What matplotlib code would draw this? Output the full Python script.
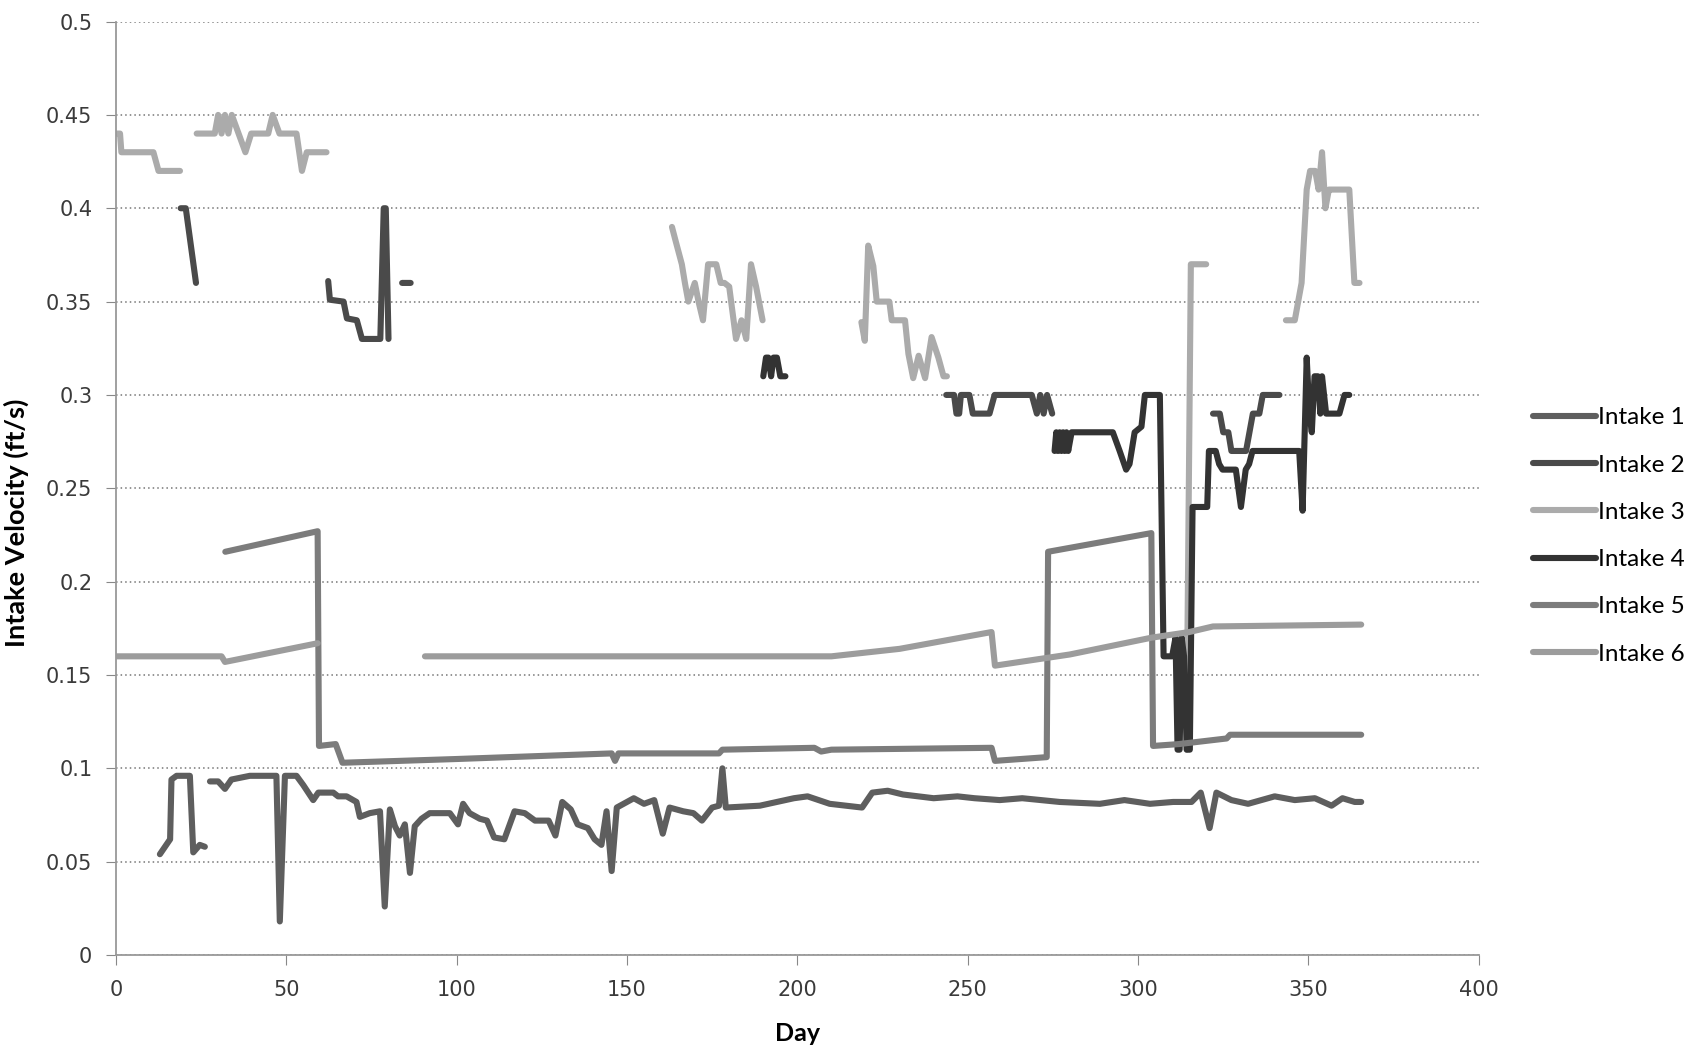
import numpy as np
import matplotlib
matplotlib.use("Agg")
import matplotlib.pyplot as plt

nan = np.nan

# ---- data (day, velocity ft/s); nan = gap ----
days_1 = [12.9, 14.4, 15.9, 16.3, 17.8, 21.7, 22.7, 24.6, 26.1, nan,
          27.6, 30, 32, 33.9, 39.3, 47.1, 48.1, 49.6, 53, 55, 57.9, 59.4, 63.8, 65.2, 67.7,
          70.6, 71.6, 74.5, 77.5, 78.9, 80.4, 81.9, 83.3, 84.8, 86.3, 87.7, 89.7, 92.1, 98,
          100.4, 101.9, 103.8, 106.8, 108.9, 111, 114, 117, 120, 123, 127, 129, 131, 133.5,
          135.5, 138.5, 140.5, 142.5, 144, 145.5, 147, 149, 152, 155, 158, 160.5, 162.5,
          166.5, 169.5, 172, 175, 177, 178, 179, 189, 199, 203, 209.5, 219, 222, 226.5,
          231, 240, 247, 252, 259.4, 266, 277, 288.8, 296, 303.5, 310.3, 315.7, 318.4, 321,
          323, 327.4, 332.3, 340.1, 346, 351.9, 356.8, 360, 363.6, 365.5]
vel_1 = [0.054, 0.058, 0.062, 0.094, 0.096, 0.096, 0.055, 0.059, 0.058, nan,
         0.093, 0.093, 0.089, 0.094, 0.096, 0.096, 0.018, 0.096, 0.096, 0.091, 0.083, 0.087, 0.087, 0.085, 0.085,
         0.082, 0.074, 0.076, 0.077, 0.026, 0.078, 0.069, 0.064, 0.070, 0.044, 0.069, 0.073, 0.076, 0.076,
         0.070, 0.081, 0.076, 0.073, 0.072, 0.063, 0.062, 0.077, 0.076, 0.072, 0.072, 0.064, 0.082, 0.078,
         0.070, 0.068, 0.062, 0.059, 0.077, 0.045, 0.079, 0.081, 0.084, 0.081, 0.083, 0.065, 0.079,
         0.077, 0.076, 0.072, 0.079, 0.080, 0.100, 0.079, 0.080, 0.084, 0.085, 0.081, 0.079, 0.087, 0.088,
         0.086, 0.084, 0.085, 0.084, 0.083, 0.084, 0.082, 0.081, 0.083, 0.081, 0.082, 0.082, 0.087, 0.068,
         0.087, 0.083, 0.081, 0.085, 0.083, 0.084, 0.080, 0.084, 0.082, 0.082]

days_2 = [19, 20.5, 23.5, nan,
          62.3, 62.8, 66.8, 67.8, 70.7, 72.2, 77.6, 78.6, 79.2, 80, nan,
          84, 86.5, nan,
          243.7, 246, 246.7, 247.5, 248, 250.5, 251.5, 256.4, 257.9, 268.8, 270.3, 271.3, 272.3,
          273.3, 274.8, nan,
          322, 324, 325, 326.5, 327.4, 331.7, 332.7, 333.7, 335.6, 336.6, 341.5]
vel_2 = [0.40, 0.40, 0.36, nan,
         0.361, 0.351, 0.35, 0.341, 0.34, 0.33, 0.33, 0.40, 0.40, 0.33, nan,
         0.36, 0.36, nan,
         0.30, 0.30, 0.29, 0.29, 0.30, 0.30, 0.29, 0.29, 0.30, 0.30, 0.29, 0.30, 0.29,
         0.30, 0.29, nan,
         0.29, 0.29, 0.28, 0.28, 0.27, 0.27, 0.28, 0.29, 0.29, 0.30, 0.30]

days_3 = [0, 1.2, 1.6, 11, 12.5, 18.8, nan,
          23.7, 29, 30, 31, 32, 33, 34, 36, 38, 39.7, 44.7, 46, 48, 53, 54.6, 56, 61.8, nan,
          163.2, 164.2, 166.1, 167, 168, 169.9, 171, 172.3, 173.8, 176.2, 177.5, 178.6, 180,
          182, 183.6, 185, 186.4, 187.9, 189.8, nan,
          218.8, 219.8, 220.8, 222.3, 223.3, 227, 227.7, 231.6, 232.6, 234, 235.6, 237.5, 239.4,
          241.4, 242.9, 243.9, nan,
          314.2, 315.5, 320, nan,
          343.4, 346, 348, 349.5, 350.5, 352, 353, 354, 355, 356, 357, 362, 363.5, 365]
vel_3 = [0.44, 0.44, 0.43, 0.43, 0.42, 0.42, nan,
         0.44, 0.44, 0.45, 0.44, 0.45, 0.44, 0.45, 0.44, 0.43, 0.44, 0.44, 0.45, 0.44, 0.44, 0.42, 0.43, 0.43, nan,
         0.39, 0.383, 0.37, 0.36, 0.35, 0.36, 0.35, 0.34, 0.37, 0.37, 0.36, 0.36, 0.358,
         0.33, 0.34, 0.33, 0.37, 0.358, 0.34, nan,
         0.339, 0.329, 0.38, 0.369, 0.35, 0.35, 0.34, 0.34, 0.322, 0.309, 0.321, 0.309, 0.331,
         0.32, 0.31, 0.31, nan,
         0.11, 0.37, 0.37, nan,
         0.34, 0.34, 0.36, 0.41, 0.42, 0.42, 0.41, 0.43, 0.40, 0.41, 0.41, 0.41, 0.36, 0.36]

days_4 = [190, 190.8, 191.5, 192.3, 193, 194, 195, 196.5, nan,
          275.5, 276, 276.5, 277, 277.5, 278, 278.5, 279, 279.5, 280.5, 292.6, 294.6, 296.5,
          297.5, 299, 301, 302, 306.4, 307.5, 310, 311, 311.6, 312.2, 312.8, 313.5, 314.3,
          315.2, 316, 320.3, 320.8, 322.8, 323.8, 324.8, 328.7, 330.2, 331.6, 332.6, 333.6,
          347.3, 348.3, 349.5, 350.3, 351, 351.8, 352.8, 353.5, 354, 355.2, 359.1, 360.6, 362]
vel_4 = [0.31, 0.32, 0.32, 0.31, 0.32, 0.32, 0.31, 0.31, nan,
         0.27, 0.28, 0.27, 0.28, 0.27, 0.28, 0.27, 0.28, 0.27, 0.28, 0.28, 0.27, 0.26,
         0.263, 0.28, 0.283, 0.30, 0.30, 0.16, 0.16, 0.17, 0.11, 0.11, 0.17, 0.16, 0.11,
         0.11, 0.24, 0.24, 0.27, 0.27, 0.263, 0.26, 0.26, 0.24, 0.26, 0.263, 0.27,
         0.27, 0.238, 0.32, 0.29, 0.28, 0.31, 0.31, 0.29, 0.31, 0.29, 0.29, 0.30, 0.30]

days_5 = [32.1, 59.2, 59.6, 64.5, 66.5, 100, 145.5, 146.5, 147.5, 177, 178, 205, 207, 210,
          257, 258, 273.2, 273.6, 303.9, 304.4, 312, 326, 327, 365.5]
vel_5 = [0.216, 0.227, 0.112, 0.113, 0.103, 0.105, 0.108, 0.104, 0.108, 0.108, 0.110, 0.111, 0.109, 0.110,
         0.111, 0.104, 0.106, 0.216, 0.226, 0.112, 0.113, 0.116, 0.118, 0.118]

days_6 = [0, 31, 32, 59.2, nan, 90.7, 150, 210, 230, 257, 258, 280, 304, 315, 322, 365.5]
vel_6 = [0.16, 0.16, 0.157, 0.167, nan, 0.16, 0.16, 0.16, 0.164, 0.173, 0.155, 0.161, 0.170, 0.173, 0.176, 0.177]

labels = ["Intake 1", "Intake 2", "Intake 3", "Intake 4", "Intake 5", "Intake 6"]
colors = ["#5e5e5e", "#4a4a4a", "#ababab", "#333333", "#7c7c7c", "#9c9c9c"]

series = [(days_1, vel_1), (days_2, vel_2), (days_3, vel_3),
          (days_4, vel_4), (days_5, vel_5), (days_6, vel_6)]

fig = plt.figure(figsize=(16.9, 10.51), dpi=100)
ax = fig.add_axes([0.0686, 0.0913, 0.8064, 0.8882])

for (d, v), lab, c in zip(series, labels, colors):
    ax.plot(d, v, color=c, lw=4.4, label=lab, solid_joinstyle="round", solid_capstyle="round")

ax.set_xlim(0, 400)
ax.set_ylim(0, 0.5)
ax.set_xticks(np.arange(0, 401, 50))
ax.set_yticks(np.arange(0, 0.501, 0.05))
ax.set_yticklabels(["0", "0.05", "0.1", "0.15", "0.2", "0.25", "0.3", "0.35", "0.4", "0.45", "0.5"])

ax.yaxis.grid(True, color="#777777", linestyle=(0, (1, 2)), linewidth=1.1)
ax.set_axisbelow(True)
for s in ["top", "right"]:
    ax.spines[s].set_visible(False)
for s in ["left", "bottom"]:
    ax.spines[s].set_color("#999999")
    ax.spines[s].set_linestyle((0, (1, 1)))
    ax.spines[s].set_linewidth(1.3)

ax.tick_params(axis="both", direction="out", length=7, color="#888888",
               labelsize=15, labelcolor="#3a3a3a")
ax.tick_params(axis="y", pad=10)
ax.tick_params(axis="x", pad=11)
for t in ax.get_xticklabels() + ax.get_yticklabels():
    t.set_family("DejaVu Sans")

ax.set_xlabel("Day", fontsize=18, fontweight="bold", family="Lato", labelpad=16)
ax.set_ylabel("Intake Velocity (ft/s)", fontsize=19.5, fontweight="bold", family="Lato")
ax.yaxis.set_label_coords(-0.064, 0.463)

handles, labs = ax.get_legend_handles_labels()
fig.legend(handles, labs, loc="center left", bbox_to_anchor=(0.907, 0.49), frameon=False,
           prop={"family": "Lato", "size": 17.5}, handlelength=2.6, handletextpad=0.1,
           labelspacing=1.08, borderaxespad=0, borderpad=0)

fig.savefig("out.png", dpi=100)
